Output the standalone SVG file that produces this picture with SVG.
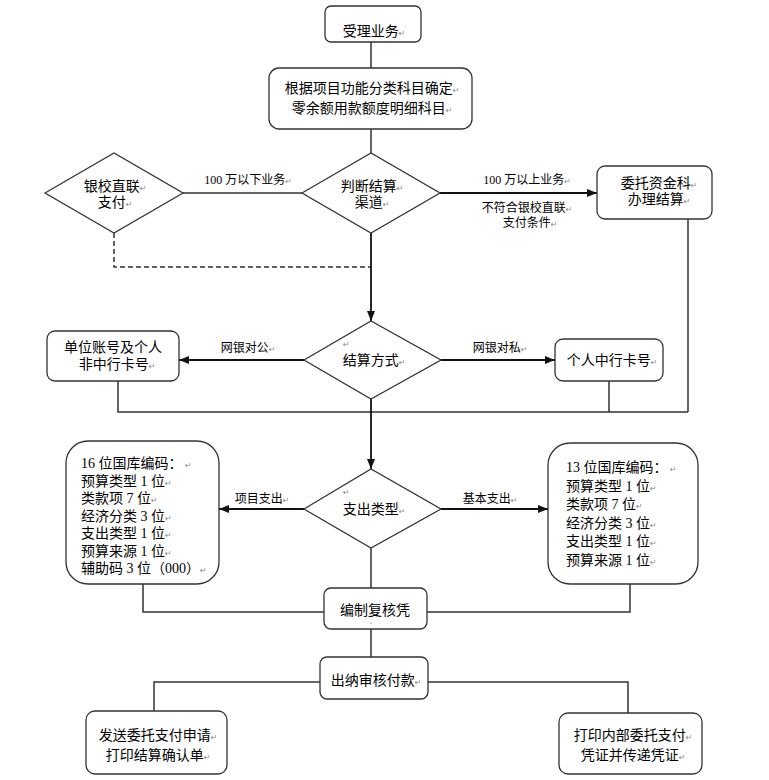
<svg xmlns="http://www.w3.org/2000/svg" width="769" height="780" viewBox="0 0 769 780">
<defs>
<marker id="ah" markerWidth="10" markerHeight="8" refX="10" refY="4" orient="auto" markerUnits="userSpaceOnUse">
<path d="M0,0 L10,4 L0,8 Z" fill="#111"/>
</marker>
<style>
.box{fill:#fff;stroke:#333;stroke-width:1.3}
.dia{fill:#fff;stroke:#333;stroke-width:1.3}
.ln{fill:none;stroke:#333;stroke-width:1.5}
.ar{fill:none;stroke:#111;stroke-width:1.8;marker-end:url(#ah)}
.dash{fill:none;stroke:#333;stroke-width:1.5;stroke-dasharray:5,3}
text{font-family:"Liberation Serif","Noto Sans CJK SC",serif;font-size:14px;fill:#000}
.c{text-anchor:middle}
.s{font-size:12px}
.pm{font-family:"DejaVu Sans",sans-serif;font-size:8px;fill:#888}
</style>
</defs>
<rect width="769" height="780" fill="#fff"/>
<g id="connectors">
<line class="ln" x1="371" y1="42" x2="371" y2="68"/>
<line class="ln" x1="371" y1="129" x2="371" y2="153"/>
<line class="ln" x1="183" y1="193" x2="302" y2="193"/>
<line class="ar" x1="440" y1="193" x2="597" y2="193"/>
<polyline class="dash" points="114,233 114,267 371,267"/>
<line class="ar" x1="371" y1="233" x2="371" y2="321"/>
<line class="ar" x1="304" y1="360" x2="179" y2="360"/>
<line class="ar" x1="441" y1="360" x2="555" y2="360"/>
<polyline class="ln" points="118,381 118,412 688,412"/>
<line class="ln" x1="609" y1="381" x2="609" y2="412"/>
<line class="ln" x1="688" y1="219" x2="688" y2="412"/>
<line class="ar" x1="371" y1="399" x2="371" y2="469"/>
<line class="ar" x1="304" y1="509" x2="219" y2="509"/>
<line class="ar" x1="441" y1="509" x2="548" y2="509"/>
<line class="ln" x1="371" y1="548" x2="371" y2="588"/>
<polyline class="ln" points="143,584 143,612 324,612"/>
<polyline class="ln" points="630,584 630,612 427,612"/>
<line class="ln" x1="371" y1="629" x2="371" y2="657"/>
<polyline class="ln" points="320,682 154,682 154,711"/>
<polyline class="ln" points="428,682 628,682 628,713"/>
<text class="c s" x="248" y="184">100 万以下业务<tspan class="pm">↵</tspan></text>
<text class="c s" x="527" y="184">100 万以上业务<tspan class="pm">↵</tspan></text>
<text class="c s" x="527" y="212">不符合银校直联<tspan class="pm">↵</tspan></text>
<text class="c s" x="530" y="227">支付条件<tspan class="pm">↵</tspan></text>
<text class="c s" x="248" y="352">网银对公<tspan class="pm">↵</tspan></text>
<text class="c s" x="500" y="352">网银对私<tspan class="pm">↵</tspan></text>
<text class="c s" x="262" y="503">项目支出<tspan class="pm">↵</tspan></text>
<text class="c s" x="490" y="503">基本支出<tspan class="pm">↵</tspan></text>
</g>
<g id="n1">
<rect class="box" x="325" y="6" width="96" height="36" rx="6"/>
<text class="c" x="374" y="36">受理业务<tspan class="pm">↵</tspan></text>
</g>
<g id="n2">
<rect class="box" x="269" y="68" width="203" height="61" rx="10"/>
<text class="c" x="372" y="93">根据项目功能分类科目确定<tspan class="pm">↵</tspan></text>
<text class="c" x="372" y="113">零余额用款额度明细科目<tspan class="pm">↵</tspan></text>
</g>
<g id="n3">
<polygon class="dia" points="45,193 114,153 183,193 114,233"/>
<text class="c" x="115" y="191">银校直联<tspan class="pm">↵</tspan></text>
<text class="c" x="115" y="207">支付<tspan class="pm">↵</tspan></text>
</g>
<g id="n4">
<polygon class="dia" points="302,193 371,153 440,193 371,233"/>
<text class="c" x="372" y="191">判断结算<tspan class="pm">↵</tspan></text>
<text class="c" x="372" y="207">渠道<tspan class="pm">↵</tspan></text>
</g>
<g id="n5">
<rect class="box" x="597" y="166" width="115" height="53" rx="8"/>
<text class="c" x="659" y="188">委托资金科<tspan class="pm">↵</tspan></text>
<text class="c" x="659" y="204">办理结算<tspan class="pm">↵</tspan></text>
</g>
<g id="n6">
<polygon class="dia" points="304,360 371,321 441,360 371,399"/>
<text class="pm" x="343" y="347">↵</text>
<text class="c" x="374" y="365">结算方式<tspan class="pm">↵</tspan></text>
</g>
<g id="n7">
<rect class="box" x="47" y="331" width="132" height="50" rx="8"/>
<text class="c" x="113" y="352">单位账号及个人</text>
<text class="c" x="117" y="369">非中行卡号<tspan class="pm">↵</tspan></text>
</g>
<g id="n8">
<rect class="box" x="555" y="339" width="108" height="42" rx="8"/>
<text class="c" x="612" y="365">个人中行卡号<tspan class="pm">↵</tspan></text>
</g>
<g id="n9">
<polygon class="dia" points="304,509 371,469 441,509 371,548"/>
<text class="pm" x="343" y="495">↵</text>
<text class="c" x="374" y="514">支出类型<tspan class="pm">↵</tspan></text>
</g>
<g id="n10">
<rect class="box" x="66" y="441" width="153" height="143" rx="22"/>
<text x="81" y="468">16 位国库编码：<tspan class="pm"> ↵</tspan></text>
<text x="81" y="485.5">预算类型 1 位<tspan class="pm">↵</tspan></text>
<text x="81" y="503">类款项 7 位<tspan class="pm">↵</tspan></text>
<text x="81" y="520.5">经济分类 3 位<tspan class="pm">↵</tspan></text>
<text x="81" y="538">支出类型 1 位<tspan class="pm">↵</tspan></text>
<text x="81" y="555.5">预算来源 1 位<tspan class="pm">↵</tspan></text>
<text x="81" y="573">辅助码 3 位（000）<tspan class="pm">↵</tspan></text>
</g>
<g id="n11">
<rect class="box" x="548" y="443" width="150" height="141" rx="22"/>
<text x="566" y="472">13 位国库编码：<tspan class="pm"> ↵</tspan></text>
<text x="566" y="490.5">预算类型 1 位<tspan class="pm">↵</tspan></text>
<text x="566" y="509">类款项 7 位<tspan class="pm">↵</tspan></text>
<text x="566" y="527.5">经济分类 3 位<tspan class="pm">↵</tspan></text>
<text x="566" y="546">支出类型 1 位<tspan class="pm">↵</tspan></text>
<text x="566" y="564.5">预算来源 1 位<tspan class="pm">↵</tspan></text>
</g>
<g id="n12">
<rect class="box" x="324" y="588" width="103" height="41" rx="7"/>
<text class="c" x="375" y="615">编制复核凭</text>
<circle cx="371" cy="623" r="0.6" fill="#444"/>
</g>
<g id="n13">
<rect class="box" x="320" y="657" width="108" height="42" rx="7"/>
<text class="c" x="376" y="685">出纳审核付款<tspan class="pm">↵</tspan></text>
</g>
<g id="n14">
<rect class="box" x="86" y="711" width="141" height="63" rx="9"/>
<text class="c" x="158" y="740">发送委托支付申请<tspan class="pm">↵</tspan></text>
<text class="c" x="158" y="760">打印结算确认单<tspan class="pm">↵</tspan></text>
</g>
<g id="n15">
<rect class="box" x="559" y="713" width="143" height="61" rx="9"/>
<text class="c" x="633" y="740">打印内部委托支付<tspan class="pm">↵</tspan></text>
<text class="c" x="633" y="760">凭证并传递凭证<tspan class="pm">↵</tspan></text>
</g>
</svg>
